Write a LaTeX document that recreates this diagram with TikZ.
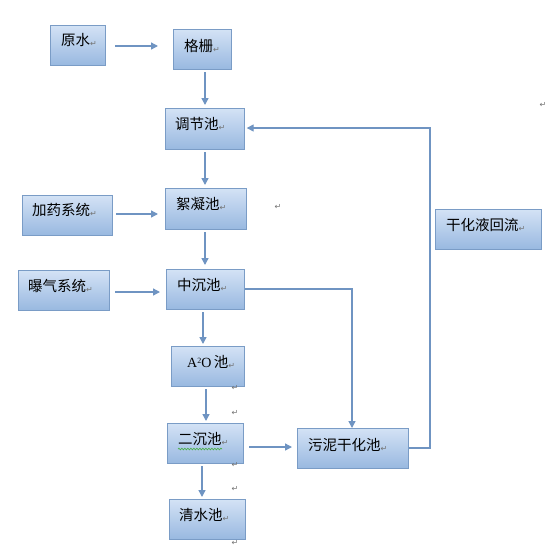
\documentclass[tikz,border=0pt]{standalone}
\usepackage{fontspec}
\newfontfamily\cjk{Noto Sans CJK SC}
\newfontfamily\retfont{DejaVu Sans}
\newfontfamily\serifA{Liberation Serif}
\usetikzlibrary{arrows.meta,decorations.pathmorphing}
\definecolor{boxtop}{HTML}{D3E2F5}
\definecolor{boxbot}{HTML}{98B8E0}
\definecolor{boxline}{HTML}{7A9CC6}
\definecolor{arr}{HTML}{6F94C2}
\newcommand{\retmark}{{\retfont\fontsize{8}{8}\selectfont\color{black!55}\raisebox{-1pt}{↵}}}
\tikzset{
  box/.style={draw=boxline, line width=1.2pt, top color=boxtop, bottom color=boxbot, inner sep=0pt, anchor=north west},
  txt/.style={anchor=west, inner sep=0pt, font=\cjk\fontsize{14.5}{15}\selectfont},
  flow/.style={draw=arr, line width=1.4pt, -{Triangle[length=7pt,width=7pt]}},
  plain/.style={draw=arr, line width=1.4pt},
  rmk/.style={inner sep=0pt}
}
\begin{document}
\begin{tikzpicture}[x=1pt,y=-1pt]
\useasboundingbox[fill=white] (0,0) rectangle (554,547);
% boxes (north west corner, width, height)
\node[box, minimum width=55pt, minimum height=40pt] (ys) at (50,25) {};
\node[box, minimum width=58pt, minimum height=40pt] (gs) at (173,29) {};
\node[box, minimum width=79pt, minimum height=41pt] (tj) at (165,108) {};
\node[box, minimum width=81pt, minimum height=41pt] (xn) at (165,188) {};
\node[box, minimum width=90pt, minimum height=40pt] (jy) at (22,195) {};
\node[box, minimum width=91pt, minimum height=40pt] (bq) at (18,270) {};
\node[box, minimum width=78pt, minimum height=40pt] (zc) at (166,269) {};
\node[box, minimum width=73pt, minimum height=40pt] (ao) at (171,346) {};
\node[box, minimum width=76pt, minimum height=40pt] (ec) at (167,423) {};
\node[box, minimum width=76pt, minimum height=40pt] (qs) at (169,499) {};
\node[box, minimum width=111pt, minimum height=40pt] (wn) at (297,428) {};
\node[box, minimum width=106pt, minimum height=40pt] (gh) at (435,209) {};
% texts
\node[txt] (tys) at (61,40) {原水\retmark};
\node[txt] (tgs) at (184,46) {格栅\retmark};
\node[txt] (ttj) at (175,124) {调节池\retmark};
\node[txt] (txn) at (176,204) {絮凝池\retmark};
\node[txt] (tjy) at (32,210) {加药系统\retmark};
\node[txt] (tbq) at (28,286) {曝气系统\retmark};
\node[txt] (tzc) at (177,285) {中沉池\retmark};
\node[txt] (tao) at (187,362) {{\serifA\fontsize{14}{15}\selectfont A\raisebox{4pt}{\fontsize{8}{8}\selectfont 2}O}\,池\retmark};
\node[txt] (tec) at (178,439) {二沉池\retmark};
\node[txt] (tqs) at (179,515) {清水池\retmark};
\node[txt] (twn) at (308,445) {污泥干化池\retmark};
\node[txt] (tgh) at (446,225) {干化液回流\retmark};
% green wavy underline under 二沉池
\draw[green!55!black!70, line width=0.7pt, decorate, decoration={snake, amplitude=0.8pt, segment length=3pt}] (178,449) -- (222,449);
% stray paragraph marks
\node[rmk] (r1) at (543,105) {\retmark};
\node[rmk] (r2) at (278,207) {\retmark};
\node[rmk] (r3) at (235,388) {\retmark};
\node[rmk] (r4) at (235,413) {\retmark};
\node[rmk] (r5) at (235,465) {\retmark};
\node[rmk] (r6) at (235,489) {\retmark};
\node[rmk] (r7) at (235,543) {\retmark};
% connector helper coordinates
\coordinate (a1s) at (115,46);
\coordinate (a1e) at (158,46);
\coordinate (a2s) at (116,214);
\coordinate (a2e) at (158,214);
\coordinate (a3s) at (115,292);
\coordinate (a3e) at (160,292);
\coordinate (a4s) at (249,447);
\coordinate (a4e) at (292,447);
\coordinate (c1) at (352,289);
\coordinate (c2) at (430,448);
\coordinate (c3) at (430,128);
% main vertical flow
\draw[flow] (205,72) -- (205,105);
\draw[flow] (205,152) -- (205,185);
\draw[flow] (205,232) -- (205,265);
\draw[flow] (203,312) -- (203,344);
\draw[flow] (206,389) -- (206,421);
\draw[flow] (202,466) -- (202,497);
% side arrows
\draw[flow] (a1s) -- (a1e);
\draw[flow] (a2s) -- (a2e);
\draw[flow] (a3s) -- (a3e);
\draw[flow] (a4s) -- (a4e);
% 中沉池 -> 污泥干化池
\draw[flow] (zc.east |- c1) -- (c1) -- (c1 |- wn.north);
% 污泥干化池 -> 调节池 return
\draw[flow] (wn.east |- c2) -- (c2) -- (c3) -- ([xshift=1.5pt]tj.east |- c3);
\end{tikzpicture}
\end{document}
